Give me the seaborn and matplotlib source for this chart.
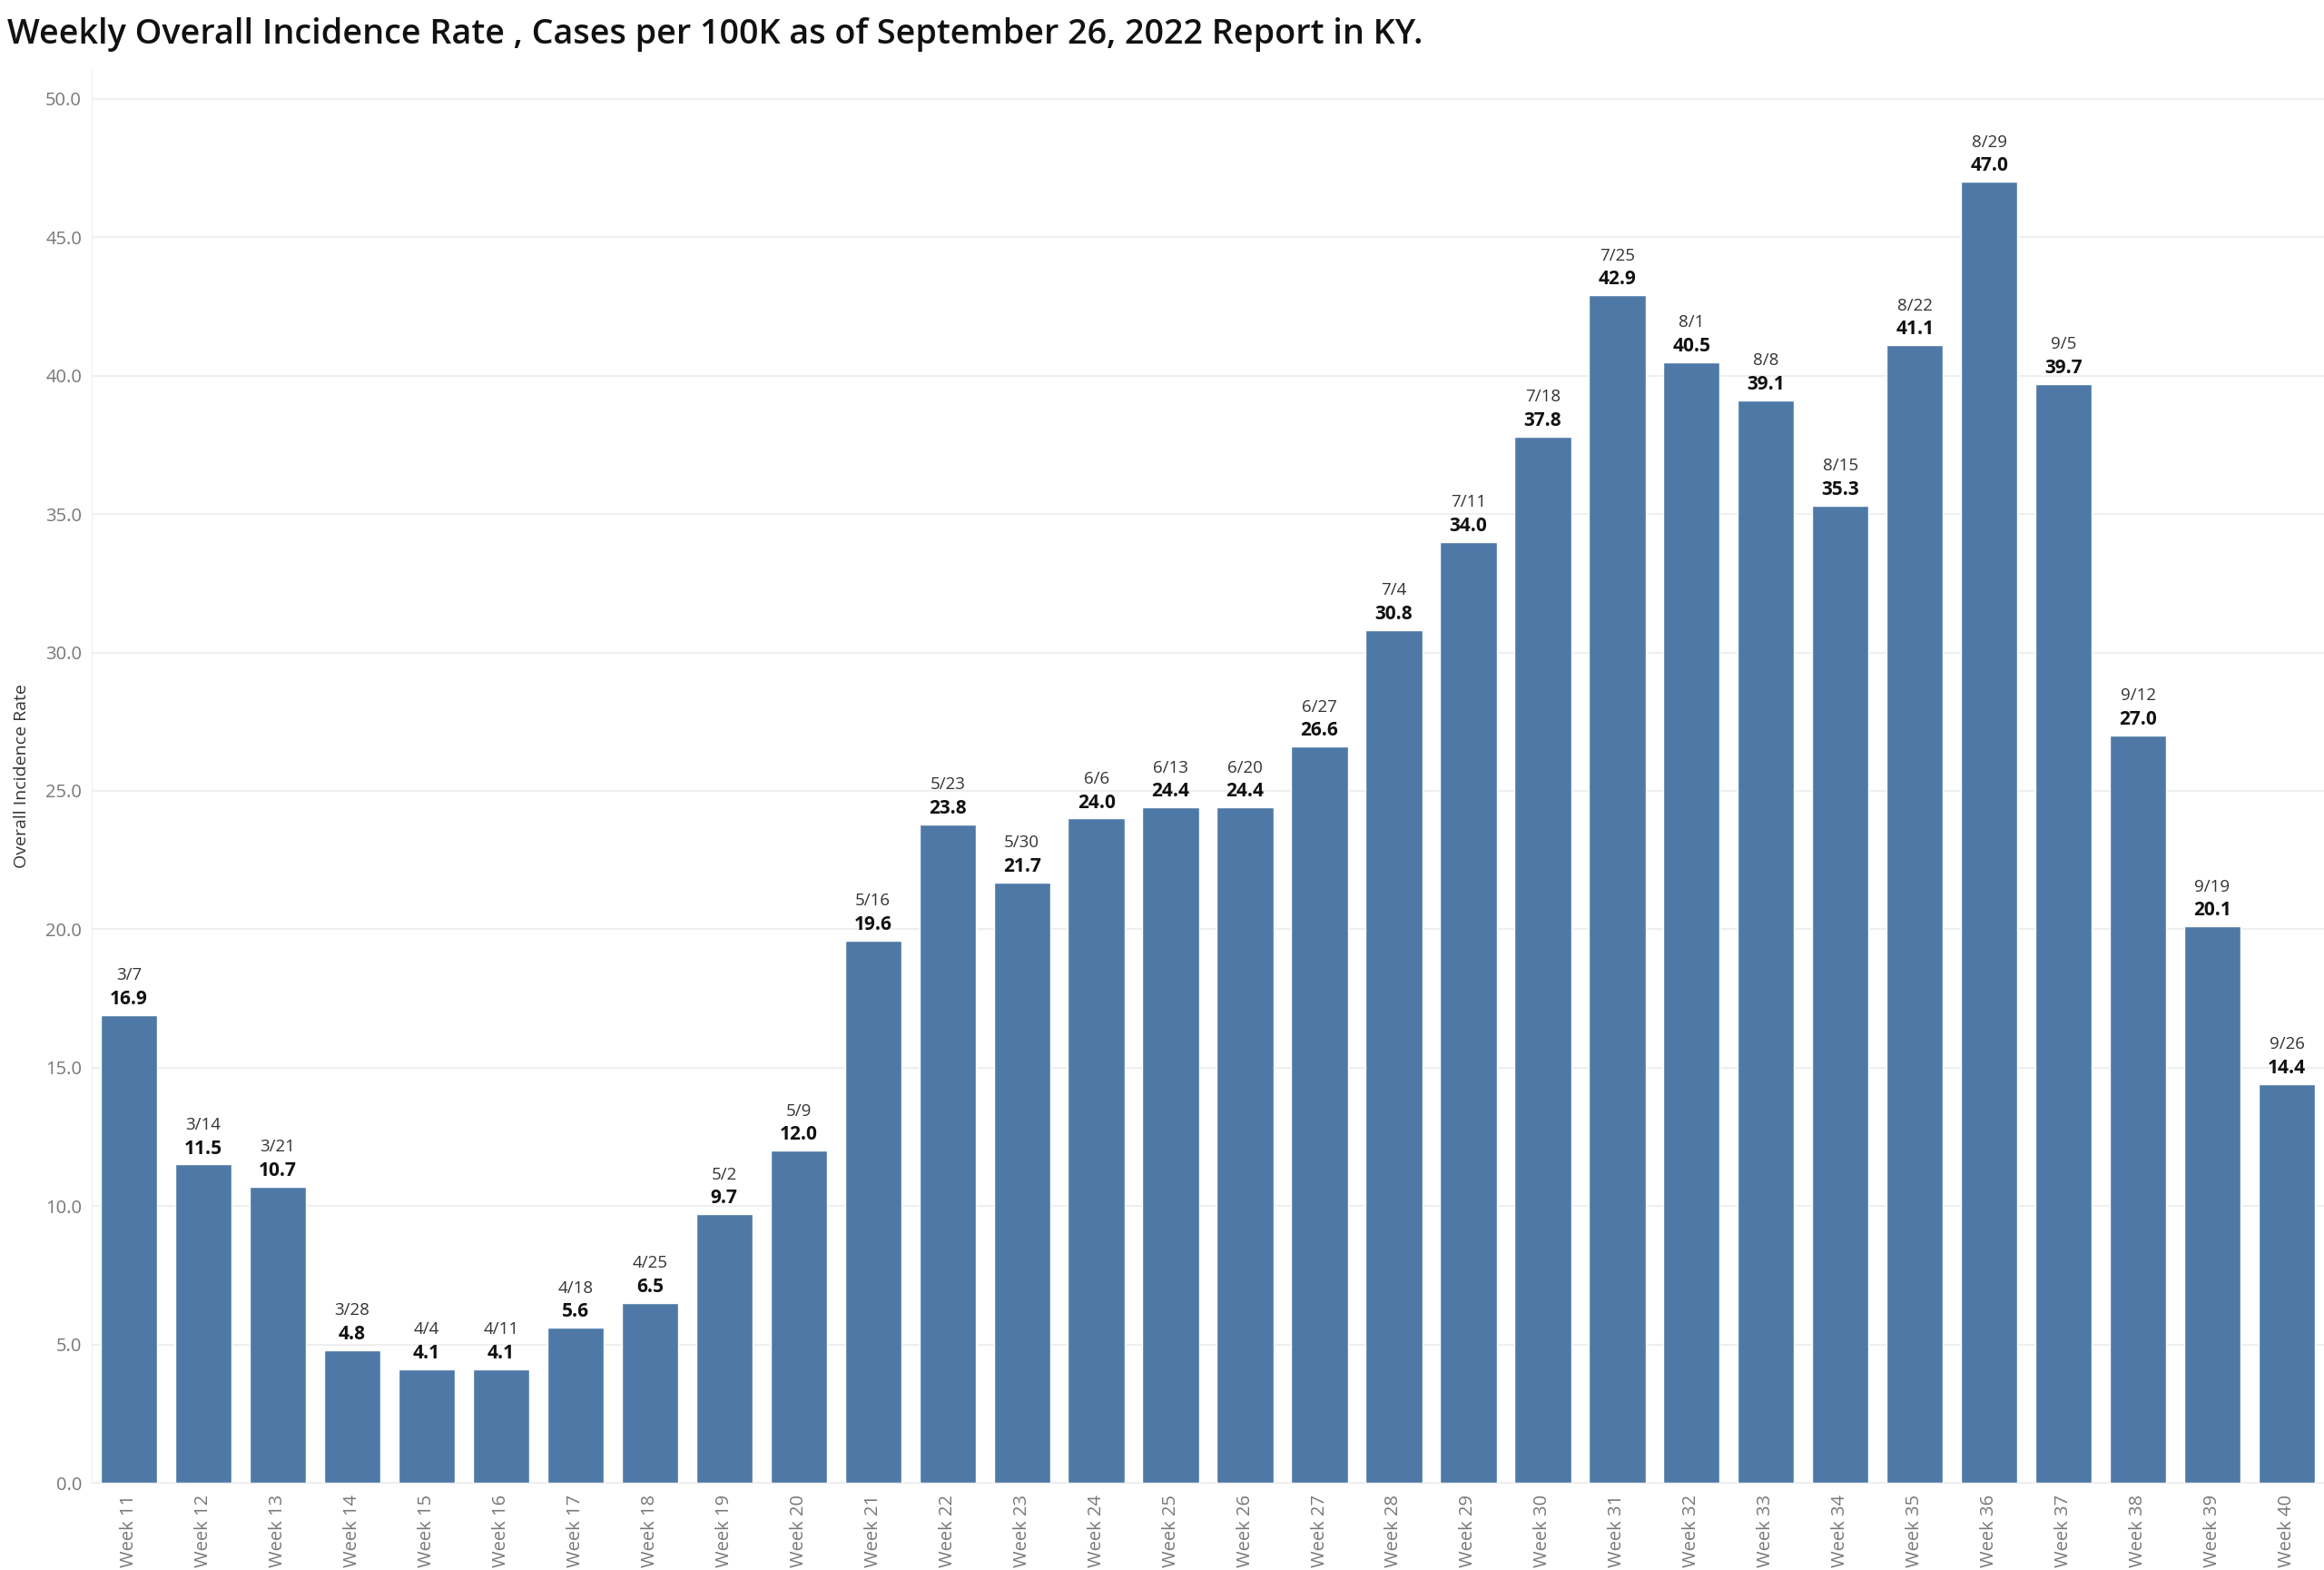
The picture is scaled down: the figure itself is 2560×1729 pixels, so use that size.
import pandas as pd
import seaborn as sns
import matplotlib.pyplot as plt
from matplotlib.ticker import FixedLocator

# Weekly incidence values
weeks = [f"Week {w}" for w in range(11, 41)]
dates = ["3/7", "3/14", "3/21", "3/28", "4/4", "4/11", "4/18", "4/25", "5/2", "5/9",
         "5/16", "5/23", "5/30", "6/6", "6/13", "6/20", "6/27", "7/4", "7/11", "7/18",
         "7/25", "8/1", "8/8", "8/15", "8/22", "8/29", "9/5", "9/12", "9/19", "9/26"]
rates = [16.9, 11.5, 10.7, 4.8, 4.1, 4.1, 5.6, 6.5, 9.7, 12.0,
         19.6, 23.8, 21.7, 24.0, 24.4, 24.4, 26.6, 30.8, 34.0, 37.8,
         42.9, 40.5, 39.1, 35.3, 41.1, 47.0, 39.7, 27.0, 20.1, 14.4]
yticks = [0, 5, 10, 15, 20, 25, 30, 35, 40, 45, 50]

df = pd.DataFrame({"Week": weeks, "Date": dates, "Rate": rates})

sns.set_style("white")
plt.rcParams["font.family"] = ["Open Sans", "DejaVu Sans"]

fig = plt.figure(figsize=(25.6, 17.29), dpi=100)
ax = fig.add_axes([0.0395, 0.0555, 0.9605, 0.9])

sns.barplot(data=df, x="Week", y="Rate", color="#4e79a7", saturation=1,
            width=0.76, ax=ax)

ax.set_xlim(-0.5, len(weeks) - 0.5)
ax.set_ylim(0, 51.05)
ax.set_yticks(yticks)
ax.set_yticklabels([f"{v:.1f}" for v in yticks], fontsize=14.5, color="#777777")
ax.yaxis.grid(True, color="#eeeeee", linewidth=1.3)
ax.set_axisbelow(True)
for s in ["top", "right"]:
    ax.spines[s].set_visible(False)
ax.spines["left"].set_color("#f0f0f0")
ax.spines["bottom"].set_color("#eeeeee")
ax.tick_params(axis="y", length=0, pad=8)
ax.tick_params(axis="x", which="major", length=0, pad=9)
ax.xaxis.set_minor_locator(FixedLocator([i + 0.5 for i in range(-1, len(weeks))]))
ax.tick_params(axis="x", which="minor", length=5, color="#e6e6e6")
plt.setp(ax.get_xticklabels(), rotation=90, fontsize=14.5, color="#777777")

ax.set_xlabel("")
ax.set_ylabel("Overall Incidence Rate", fontsize=14, color="#333333", labelpad=12)

for i, (d, r) in enumerate(zip(dates, rates)):
    ax.annotate(f"{r:.1f}", (i, r), xytext=(0, 5), textcoords="offset points",
                ha="center", va="bottom", fontsize=15, fontweight="bold", color="#111111")
    ax.annotate(d, (i, r), xytext=(0, 25), textcoords="offset points",
                ha="center", va="bottom", fontsize=13.5, color="#333333")

fig.text(0.003, 0.978, "Weekly Overall Incidence Rate , Cases per 100K as of September 26, 2022 Report in KY.",
         fontsize=27.2, fontweight="semibold", color="#111111", ha="left", va="center")

fig.savefig("out.png", dpi=100)
